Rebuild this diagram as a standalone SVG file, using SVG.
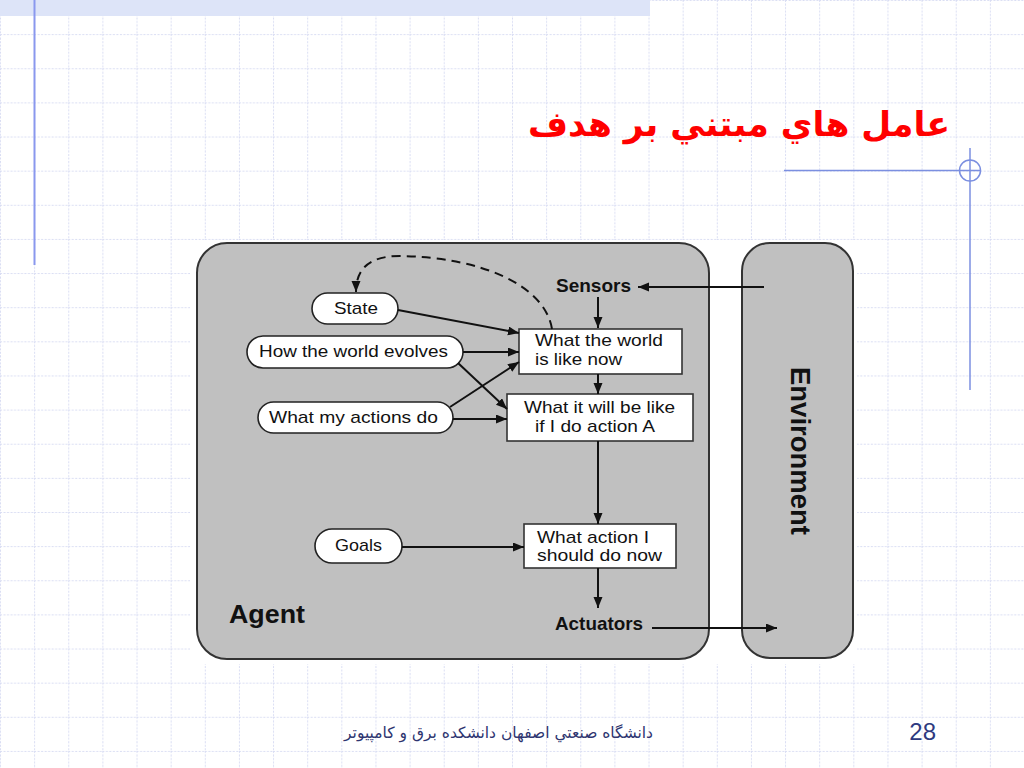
<svg xmlns="http://www.w3.org/2000/svg" width="1024" height="768" viewBox="0 0 1024 768">
<defs>
<pattern id="grid" patternUnits="userSpaceOnUse" width="34.1333" height="34.1333">
<path d="M0.5,0 V34.1333 M0,0.5 H34.1333" stroke="#d9ddf3" stroke-width="1" stroke-dasharray="2,1.5" fill="none"/>
</pattern>
<marker id="ah" markerUnits="userSpaceOnUse" markerWidth="12" markerHeight="10" refX="11" refY="4.5" orient="auto">
<path d="M0,0 L11,4.5 L0,9 z" fill="#111"/>
</marker>
<style>
.bg{fill:url(#grid)}
.pane{fill:#c0c0c0;stroke:#333;stroke-width:2}
.pill{fill:#fff;stroke:#222;stroke-width:1.6}
.box{fill:#fff;stroke:#333;stroke-width:1.6}
.t{font-family:"Liberation Sans",Arial,sans-serif;font-size:17px;fill:#111}
.b{font-family:"Liberation Sans",Arial,sans-serif;font-weight:bold;fill:#111}
.ln{stroke:#111;stroke-width:2;fill:none;marker-end:url(#ah)}
</style>
</defs>
<rect width="1024" height="768" fill="#fff"/>
<rect width="1024" height="768" class="bg"/>
<rect x="0" y="0" width="650" height="16" fill="#dde4f8"/>
<line x1="34.5" y1="0" x2="34.5" y2="265" stroke="#8a98ee" stroke-width="2"/>
<g id="deco" stroke="#7b8fe0" stroke-width="1.5" fill="none">
<line x1="784" y1="170.5" x2="981" y2="170.5"/>
<circle cx="970" cy="170.5" r="10.5"/>
<line x1="970" y1="148" x2="970" y2="390"/>
</g>
<text id="title" x="950" y="136" text-anchor="end" font-family="'DejaVu Sans',sans-serif" font-weight="bold" font-size="34.5" fill="#ff0000">عامل هاي مبتني بر هدف</text>
<rect x="190" y="240" width="667" height="424" fill="#fff"/>
<g id="agent">
<rect class="pane" x="197" y="243" width="512" height="416" rx="30" ry="30"/>
<text class="b" x="229" y="623" font-size="25" textLength="76" lengthAdjust="spacingAndGlyphs">Agent</text>
</g>
<g id="environment">
<rect class="pane" x="742" y="243" width="111" height="415" rx="28" ry="28"/>
<text class="b" transform="translate(791,451) rotate(90)" x="0" y="0" text-anchor="middle" font-size="28" textLength="168" lengthAdjust="spacingAndGlyphs">Environment</text>
</g>
<g id="sensors"><text class="b" x="556" y="292" font-size="18.5" textLength="75" lengthAdjust="spacingAndGlyphs">Sensors</text></g>
<g id="actuators"><text class="b" x="555" y="630" font-size="18.5" textLength="88" lengthAdjust="spacingAndGlyphs">Actuators</text></g>
<g id="state">
<rect class="pill" x="312" y="293" width="86" height="31" rx="15.5"/>
<text class="t" x="334" y="314" textLength="44" lengthAdjust="spacingAndGlyphs">State</text>
</g>
<g id="how-world-evolves">
<rect class="pill" x="247" y="336" width="216" height="32" rx="16"/>
<text class="t" x="259" y="357" textLength="189" lengthAdjust="spacingAndGlyphs">How the world evolves</text>
</g>
<g id="what-my-actions-do">
<rect class="pill" x="258" y="402" width="195" height="31" rx="15.5"/>
<text class="t" x="269" y="423" textLength="169" lengthAdjust="spacingAndGlyphs">What my actions do</text>
</g>
<g id="goals">
<rect class="pill" x="315" y="529" width="87" height="34" rx="17"/>
<text class="t" x="335" y="551" textLength="47" lengthAdjust="spacingAndGlyphs">Goals</text>
</g>
<g id="world-now">
<rect class="box" x="519" y="329" width="163" height="45"/>
<text class="t" x="535" y="346" textLength="128" lengthAdjust="spacingAndGlyphs">What the world</text>
<text class="t" x="535" y="365" textLength="87" lengthAdjust="spacingAndGlyphs">is like now</text>
</g>
<g id="will-be-like">
<rect class="box" x="507" y="394" width="186" height="47"/>
<text class="t" x="524" y="413" textLength="151" lengthAdjust="spacingAndGlyphs">What it will be like</text>
<text class="t" x="535" y="432" textLength="120" lengthAdjust="spacingAndGlyphs">if I do action A</text>
</g>
<g id="what-action">
<rect class="box" x="524" y="524" width="152" height="44"/>
<text class="t" x="537" y="543" textLength="112" lengthAdjust="spacingAndGlyphs">What action I</text>
<text class="t" x="537" y="561" textLength="125" lengthAdjust="spacingAndGlyphs">should do now</text>
</g>
<g id="connectors">
<path class="ln" d="M764,287 L638,287"/>
<path class="ln" d="M598,297 L598,328"/>
<path class="ln" d="M598,374 L598,394"/>
<path class="ln" d="M598,441 L598,524"/>
<path class="ln" d="M598,568 L598,608"/>
<path class="ln" d="M652,628 L777,628"/>
<path class="ln" d="M398,310 L519,333"/>
<path class="ln" d="M463,352 L519,352"/>
<path class="ln" d="M458,363 L507,409"/>
<path class="ln" d="M450,407 L519,362"/>
<path class="ln" d="M453,419 L507,419"/>
<path class="ln" d="M402,547 L524,547"/>
<path class="ln" d="M552,329 C545,285 480,257 400,256 C370,256 356,268 356,292" stroke-width="2.5" stroke-dasharray="9,6"/>
</g>
<text id="footer" x="653" y="738" text-anchor="end" font-family="'DejaVu Sans',sans-serif" font-size="15.5" fill="#2e3570">دانشگاه صنعتي اصفهان دانشکده برق و کامپيوتر</text>
<text id="page" x="936" y="740" text-anchor="end" font-family="'Liberation Sans',Arial,sans-serif" font-size="24" fill="#2e3a80">28</text>
</svg>
